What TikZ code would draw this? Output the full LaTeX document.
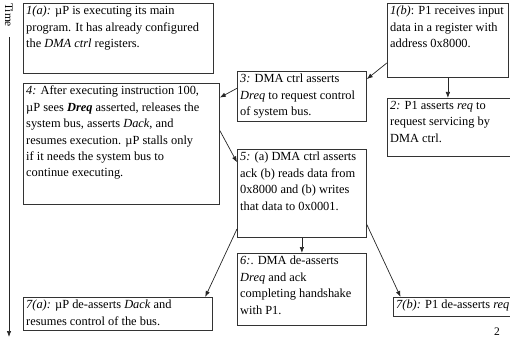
\documentclass[tikz,border=0pt]{standalone}
\usepackage{fontspec}
\setmainfont{Liberation Serif}
\usetikzlibrary{calc,arrows.meta}

\tikzset{
  box/.style={draw=black!80, line width=0.8pt, rectangle, inner sep=0pt, anchor=north west},
  txt/.style={inner sep=2pt, align=left, anchor=north west,
              font=\fontsize{12.4}{16.4}\selectfont},
  arr/.style={draw=black!85, line width=0.7pt, -{Latex[length=6pt,width=4.5pt]}},
}

\begin{document}
\begin{tikzpicture}[x=1pt,y=-1pt]
\useasboundingbox (0,0) rectangle (510,339);

% time axis
\node[rotate=-90, anchor=west, inner sep=0pt, font=\fontsize{11.5}{13}\selectfont] (time) at (9,3) {Time};
\coordinate (tstart) at (9,37);
\coordinate (tend) at (9,337);
\draw[arr] (tstart) -- (tend);

% boxes
\node[box, minimum width=190pt, minimum height=70pt] (b1a) at (23,3) {};
\node[box, minimum width=121pt, minimum height=74pt] (b1b) at (387,3) {};
\node[box, minimum width=129pt, minimum height=50pt] (b3) at (237,71) {};
\node[box, minimum width=126pt, minimum height=58pt] (b2) at (387,98) {};
\node[box, minimum width=196pt, minimum height=121pt] (b4) at (23,83) {};
\node[box, minimum width=129pt, minimum height=88pt] (b5) at (237,149) {};
\node[box, minimum width=129pt, minimum height=72pt] (b6) at (237,253) {};
\node[box, minimum width=189pt, minimum height=33pt] (b7a) at (23,297) {};
\node[box, minimum width=126pt, minimum height=19pt] (b7b) at (393,297) {};

% box texts
\node[txt] (t1a) at ([xshift=1pt,yshift=-1pt]b1a.north west)
  {\textit{1(a):} µP is executing its main\\program. It has already configured\\the \textit{DMA ctrl} registers.};
\node[txt] (t1b) at ([xshift=1pt,yshift=-1pt]b1b.north west)
  {\textit{1(b)}: P1 receives input\\data in a register with\\address 0x8000.};
\node[txt] (t3) at ([xshift=1pt,yshift=-1pt]b3.north west)
  {\textit{3:} DMA ctrl asserts\\\textit{Dreq} to request control\\of system bus.};
\node[txt] (t2) at ([xshift=1pt,yshift=-1pt]b2.north west)
  {\textit{2:} P1 asserts \textit{req} to\\request servicing by\\DMA ctrl.};
\node[txt] (t4) at ([xshift=1pt,yshift=-1pt]b4.north west)
  {\textit{4:} After executing instruction 100,\\µP sees \textbf{\textit{Dreq}} asserted, releases the\\system bus, asserts \textit{Dack}, and\\resumes execution. µP stalls only\\if it needs the system bus to\\continue executing.};
\node[txt] (t5) at ([xshift=1pt,yshift=-1pt]b5.north west)
  {\textit{5:} (a) DMA ctrl asserts\\ack (b) reads data from\\0x8000 and (b) writes\\that data to 0x0001.};
\node[txt] (t6) at ([xshift=1pt,yshift=-1pt]b6.north west)
  {\textit{6:}. DMA de-asserts\\\textit{Dreq} and ack\\completing handshake\\with P1.};
\node[txt] (t7a) at ([xshift=1pt,yshift=-1pt]b7a.north west)
  {\textit{7(a):} µP de-asserts \textit{Dack} and\\resumes control of the bus.};
\node[txt] (t7b) at ([xshift=1pt,yshift=-1pt]b7b.north west)
  {\textit{7(b):} P1 de-asserts \textit{req}};

% page number
\node[inner sep=0pt, font=\fontsize{11.5}{13}\selectfont] (pg) at (497,332) {2};

% connectors
\draw[arr] ($(b1b.north west)!0.8!(b1b.south west)$) -- ($(b3.north east)!0.16!(b3.south east)$);
\draw[arr] (b1b.south) -- (b1b.south |- b2.north);
\draw[arr] ($(b3.north west)!0.34!(b3.south west)$) -- ($(b4.north east)!0.12!(b4.south east)$);
\draw[arr] ($(b4.north east)!0.39!(b4.south east)$) -- ($(b5.north west)!0.15!(b5.south west)$);
\draw[arr] (b5.south) -- (b6.north);
\draw[arr] ($(b5.north west)!0.9!(b5.south west)$) -- ($(b7a.north west)!0.96!(b7a.north east)$);
\draw[arr] ($(b5.north east)!0.85!(b5.south east)$) -- ($(b7b.north west)!0.06!(b7b.north east)$);
\end{tikzpicture}
\end{document}
